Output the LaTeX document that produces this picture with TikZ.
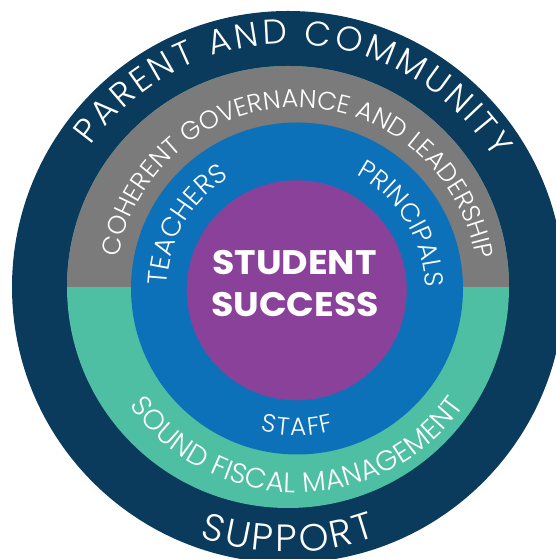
\documentclass[tikz,border=0pt]{standalone}
\usepackage{fontspec}
\setmainfont{Poppins}
\newfontfamily\ringfont{Poppins Light}
\usetikzlibrary{decorations.text}
\definecolor{navy}{HTML}{0A3A5C}
\definecolor{ringgray}{HTML}{7B7B7B}
\definecolor{ringgreen}{HTML}{4FBFA3}
\definecolor{ringblue}{HTML}{0D71B9}
\definecolor{corepurple}{HTML}{8A4199}
\tikzset{
  ringlabel/.style args={#1/#2}{decorate, decoration={text along path, text align=fit to path,
     text={|\ringfont\fontsize{#1}{#1}\selectfont\color{white}|#2}}},
  coretext/.style={anchor=base, text=white, inner sep=0pt,
     font=\fontsize{34}{34}\selectfont\bfseries}
}
\begin{document}
\begin{tikzpicture}[x=1pt,y=1pt]
\useasboundingbox (0,0) rectangle (556,559);
\clip (0,0) rectangle (556,559);
\coordinate (O) at (288,272);
\coordinate (I) at (297,270.5);
\coordinate (P) at (296.7,268.7);
\fill[navy] (O) circle[radius=276];
\fill[ringgreen] (O) circle[radius=221];
\fill[ringgray] ([xshift=221pt]O) arc[start angle=0,end angle=180,radius=221] -- cycle;
\fill[ringblue] (I) circle[radius=166];
\fill[corepurple] (P) circle[radius=110];
% ring labels
\path[ringlabel={34.5/PARENT AND COMMUNITY}] ([shift={(144.5:243)}]O) arc[start angle=144.5,end angle=32,radius=243];
\path[ringlabel={38/SUPPORT}] ([shift={(250.5:265)}]O) arc[start angle=250.5,end angle=289.5,radius=265];
\path[ringlabel={25.5/COHERENT GOVERNANCE AND LEADERSHIP}] ([shift={(170:181)}]I) arc[start angle=170,end angle=10,radius=181];
\path[ringlabel={28/SOUND FISCAL MANAGEMENT}] ([shift={(215:204)}]I) arc[start angle=215,end angle=325,radius=204];
\path[ringlabel={27/TEACHERS}] ([shift={(178.5:130)}]I) arc[start angle=178.5,end angle=122.5,radius=130];
\path[ringlabel={26/PRINCIPALS}] ([shift={(62.5:128)}]I) arc[start angle=62.5,end angle=0.5,radius=128];
\path[ringlabel={25/STAFF}] ([shift={(255.5:147)}]I) arc[start angle=255.5,end angle=284.5,radius=147];
% centre
\node[coretext] (l1) at (294.5,284) {\scalebox{1.07}[1]{STUDENT}};
\node[coretext] (l2) at (295,242) {\scalebox{1.07}[1]{SUCCESS}};
\end{tikzpicture}
\end{document}
